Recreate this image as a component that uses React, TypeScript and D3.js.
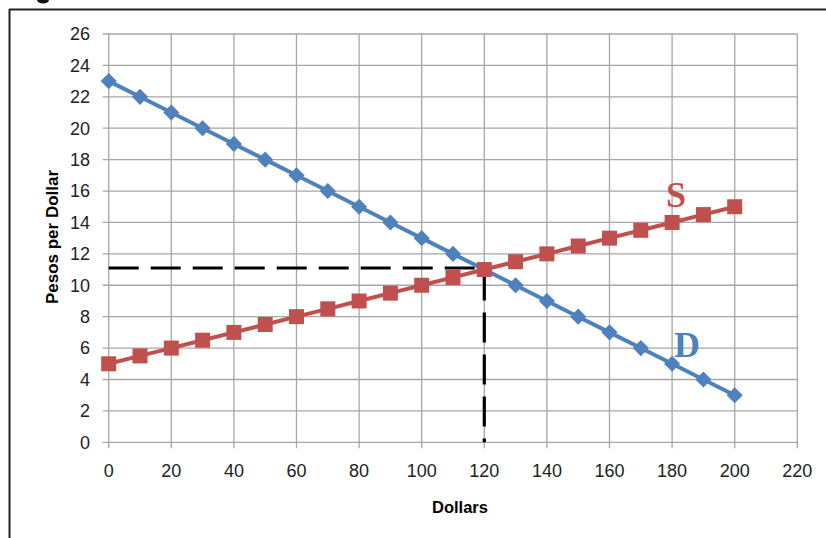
import React from "react";
import * as d3 from "d3";

const dollars = [0, 10, 20, 30, 40, 50, 60, 70, 80, 90, 100, 110, 120, 130, 140, 150, 160, 170, 180, 190, 200];
const demand = [23, 22, 21, 20, 19, 18, 17, 16, 15, 14, 13, 12, 11, 10, 9, 8, 7, 6, 5, 4, 3];
const supply = [5, 5.5, 6, 6.5, 7, 7.5, 8, 8.5, 9, 9.5, 10, 10.5, 11, 11.5, 12, 12.5, 13, 13.5, 14, 14.5, 15];
const xTicks = [0, 20, 40, 60, 80, 100, 120, 140, 160, 180, 200, 220];
const yTicks = [0, 2, 4, 6, 8, 10, 12, 14, 16, 18, 20, 22, 24, 26];
const equilibrium = { x: 120, y: 11.1 };
const xTitle = "Dollars";
const yTitle = "Pesos per Dollar";

export default function App() {
  const W = 826, H = 538;
  const x = d3.scaleLinear().domain([0, 220]).range([108.7, 797.3]);
  const y = d3.scaleLinear().domain([0, 26]).range([442.3, 34]);
  const mk = d3.line<number>().x((_, i) => x(dollars[i])).y((v) => y(v));
  const dPath = mk(demand) || "";
  const sPath = mk(supply) || "";
  const font = "'Liberation Sans', Arial, sans-serif";
  const grid = "#a6a6a6";
  const blue = "#4F81BD";
  const red = "#C0504D";
  return (
    <svg width={W} height={H} style={{ position: "absolute", left: 0, top: 0, background: "#fff" }}>
      <rect x={0} y={0} width={W} height={H} fill="#fff" />
      {/* frame */}
      <line x1={9} x2={W} y1={9.5} y2={9.5} stroke="#222" strokeWidth={2} />
      <line x1={9.5} x2={9.5} y1={9} y2={H} stroke="#222" strokeWidth={2} />
      <ellipse cx={43} cy={0} rx={6} ry={3.5} fill="#111" />
      {/* gridlines */}
      {yTicks.map((t) => (
        <line key={"gy" + t} x1={x(0) - 6} x2={x(220)} y1={y(t)} y2={y(t)} stroke={grid} strokeWidth={1.3} />
      ))}
      {xTicks.map((t) => (
        <line key={"gx" + t} x1={x(t)} x2={x(t)} y1={y(26)} y2={y(0) + 6} stroke={grid} strokeWidth={1.3} />
      ))}
      {/* tick labels */}
      {yTicks.map((t) => (
        <text key={"ty" + t} x={90} y={y(t) + 6.3} textAnchor="end" fontFamily={font} fontSize={18} fill="#222">{t}</text>
      ))}
      {xTicks.map((t) => (
        <text key={"tx" + t} x={x(t)} y={477} textAnchor="middle" fontFamily={font} fontSize={18} fill="#222">{t}</text>
      ))}
      {/* axis titles */}
      <text x={460} y={513} textAnchor="middle" fontFamily={font} fontWeight="bold" fontSize={16.5} fill="#000">{xTitle}</text>
      <text transform={`translate(58,237) rotate(-90)`} textAnchor="middle" fontFamily={font} fontWeight="bold" fontSize={17} fill="#000">{yTitle}</text>
      {/* dashed equilibrium */}
      <path
        d={`M${x(0)},${y(equilibrium.y)}H${x(equilibrium.x)}V${y(0)}`}
        fill="none" stroke="#000" strokeWidth={3.2} strokeDasharray="30,12"
      />
      {/* series */}
      <path d={dPath} fill="none" stroke={blue} strokeWidth={4} />
      <path d={sPath} fill="none" stroke={red} strokeWidth={4} />
      {demand.map((v, i) => (
        <rect key={"dm" + i} x={-5.7} y={-5.7} width={11.4} height={11.4} fill={blue}
          transform={`translate(${x(dollars[i])},${y(v)}) rotate(45)`} />
      ))}
      {supply.map((v, i) => (
        <rect key={"sm" + i} x={x(dollars[i]) - 7.5} y={y(v) - 7.5} width={15} height={15} fill={red} />
      ))}
      {/* labels */}
      <text x={676} y={207} textAnchor="middle" fontFamily="'Liberation Serif', 'DejaVu Serif', serif" fontWeight="bold" fontSize={36} fill={red}>S</text>
      <text x={687} y={357} textAnchor="middle" fontFamily="'Liberation Serif', 'DejaVu Serif', serif" fontWeight="bold" fontSize={36} fill={blue}>D</text>
    </svg>
  );
}
